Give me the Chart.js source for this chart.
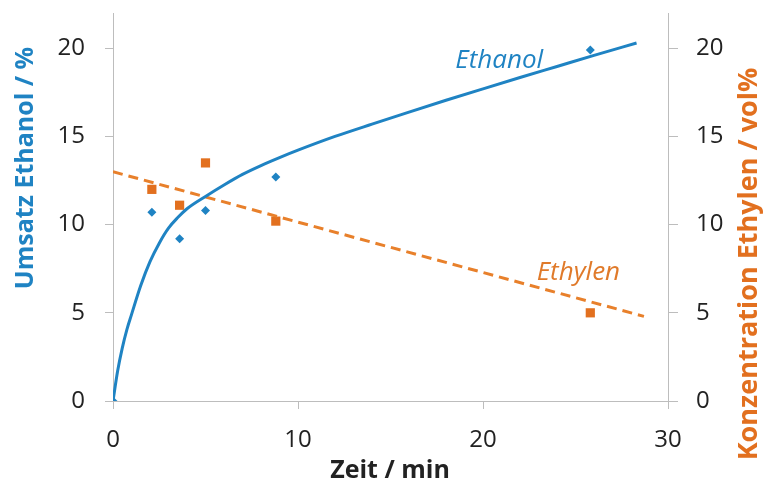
<!DOCTYPE html>
<html>
<head>
<meta charset="utf-8">
<script src="https://cdn.jsdelivr.net/npm/chart.js@4.4.0/dist/chart.umd.min.js"></script>
<style>
  html, body { margin: 0; padding: 0; background: #fff; }
  #wrap { width: 769px; height: 481px; }
</style>
</head>
<body>
<div id="wrap"><canvas id="myChart"></canvas></div>
<script>
// measured points
const zeit = [0, 2.1, 3.6, 5.0, 8.8, 25.8];
const umsatz = [0, 10.7, 9.2, 10.8, 12.7, 19.9];
const zeitEthylen = [2.1, 3.6, 5.0, 8.8, 25.8];
const ethylen = [12.0, 11.1, 13.5, 10.2, 5.0];

// fitted curves
const fitZeit = [0, 0.25, 0.5, 0.75, 1, 1.5, 2, 2.5, 3, 3.5, 4, 5, 6, 7, 8, 9, 10, 12, 14, 16, 18, 20, 22, 24, 26, 28.3];
const fitUmsatz = [0, 1.7, 3.0, 4.05, 4.9, 6.55, 7.9, 8.95, 9.8, 10.4, 10.9, 11.6, 12.25, 12.85, 13.35, 13.8, 14.22, 15.0, 15.7, 16.38, 17.05, 17.7, 18.34, 18.97, 19.6, 20.3];
const trendZeit = [0, 28.7];
const trendEthylen = [13.0, 4.8];

const yTicks = [0, 5, 10, 15, 20];
const xTicks = [0, 10, 20, 30];

const blue = '#1f83c3';
const orange = '#e2701f';
const axisGray = '#bdbdbd';
const font = '"Open Sans", sans-serif';

const pts = (xs, ys) => xs.map((x, i) => ({ x: x, y: ys[i] }));

// curve labels
const curveLabels = [
  { text: 'Ethanol', x: 18.5, y: 19.3, axis: 'y', color: blue },
  { text: 'Ethylen', x: 22.9, y: 7.3, axis: 'y1', color: '#e07a2a' }
];

// axis titles, drawn by hand (right one reads bottom to top like the original)
const axisTitles = [
  { text: 'Umsatz Ethanol / %', x: 33, y: 168, rot: -Math.PI / 2, size: 25, color: blue },
  { text: 'Konzentration Ethylen / vol%', x: 757, y: 264, rot: -Math.PI / 2, size: 27, color: orange },
  { text: 'Zeit / min', x: 390, y: 478, rot: 0, size: 25, color: '#222' }
];

const labelPlugin = {
  id: 'curveLabels',
  afterDatasetsDraw(chart) {
    const ctx = chart.ctx;
    ctx.save();
    ctx.font = 'italic 26px ' + font;
    ctx.textAlign = 'left';
    ctx.textBaseline = 'middle';
    curveLabels.forEach(l => {
      ctx.fillStyle = l.color;
      ctx.fillText(l.text, chart.scales.x.getPixelForValue(l.x), chart.scales[l.axis].getPixelForValue(l.y));
    });
    ctx.restore();
  },
  afterDraw(chart) {
    const ctx = chart.ctx;
    axisTitles.forEach(t => {
      ctx.save();
      ctx.translate(t.x, t.y);
      ctx.rotate(t.rot);
      ctx.font = 'bold ' + t.size + 'px ' + font;
      ctx.fillStyle = t.color;
      ctx.textAlign = 'center';
      ctx.textBaseline = 'alphabetic';
      ctx.fillText(t.text, 0, 0);
      ctx.restore();
    });
  }
};

const keepTicks = list => scale => {
  scale.ticks = scale.ticks.filter(t => list.includes(t.value));
};

// fixed axis boxes so the plot area sits where it does in the original
const fixBox = (w, h) => s => {
  if (w) s.width = w;
  if (h) s.height = h;
  s.paddingTop = 0;
  s.paddingBottom = 0;
  s.paddingLeft = 0;
  s.paddingRight = 0;
};

const tickFont = { family: font, size: 24 };

let myChart = document.querySelector('#myChart').getContext('2d');
new Chart(myChart, {
  type: 'scatter',
  data: {
    datasets: [
      {
        data: pts(fitZeit, fitUmsatz),
        showLine: true,
        borderColor: blue,
        borderWidth: 3,
        pointRadius: 0,
        cubicInterpolationMode: 'monotone',
        yAxisID: 'y'
      },
      {
        data: pts(zeit, umsatz),
        pointStyle: 'rectRot',
        pointRadius: 4.5,
        backgroundColor: blue,
        borderColor: blue,
        borderWidth: 0,
        yAxisID: 'y'
      },
      {
        data: pts(trendZeit, trendEthylen),
        showLine: true,
        borderColor: '#e8802b',
        borderWidth: 3,
        borderDash: [10, 6],
        pointRadius: 0,
        yAxisID: 'y1'
      },
      {
        data: pts(zeitEthylen, ethylen),
        pointStyle: 'rect',
        pointRadius: 6.5,
        backgroundColor: orange,
        borderColor: orange,
        borderWidth: 0,
        yAxisID: 'y1'
      }
    ]
  },
  options: {
    responsive: true,
    maintainAspectRatio: false,
    animation: false,
    layout: { padding: { left: 0, right: 0, top: 13, bottom: 0 } },
    plugins: {
      legend: { display: false },
      tooltip: { enabled: false }
    },
    scales: {
      x: {
        type: 'linear',
        min: 0,
        max: 30,
        afterBuildTicks: keepTicks(xTicks),
        afterFit: fixBox(0, 80),
        ticks: { stepSize: 10, color: '#222', font: tickFont, padding: 17 },
        grid: { drawOnChartArea: false, drawTicks: true, tickLength: 8, color: axisGray },
        border: { color: axisGray, width: 1 }
      },
      y: {
        position: 'left',
        min: 0,
        max: 22,
        afterBuildTicks: keepTicks(yTicks),
        afterFit: fixBox(113, 0),
        ticks: { stepSize: 5, color: '#222', font: tickFont, padding: 20 },
        grid: { drawOnChartArea: false, drawTicks: true, tickLength: 8, color: axisGray },
        border: { color: axisGray, width: 1 }
      },
      y1: {
        position: 'right',
        min: 0,
        max: 22,
        afterBuildTicks: keepTicks(yTicks),
        afterFit: fixBox(101, 0),
        ticks: { stepSize: 5, color: '#222', font: tickFont, padding: 18 },
        grid: { drawOnChartArea: false, drawTicks: true, tickLength: 10, color: axisGray },
        border: { color: axisGray, width: 1 }
      }
    }
  },
  plugins: [labelPlugin]
});
</script>
</body>
</html>
